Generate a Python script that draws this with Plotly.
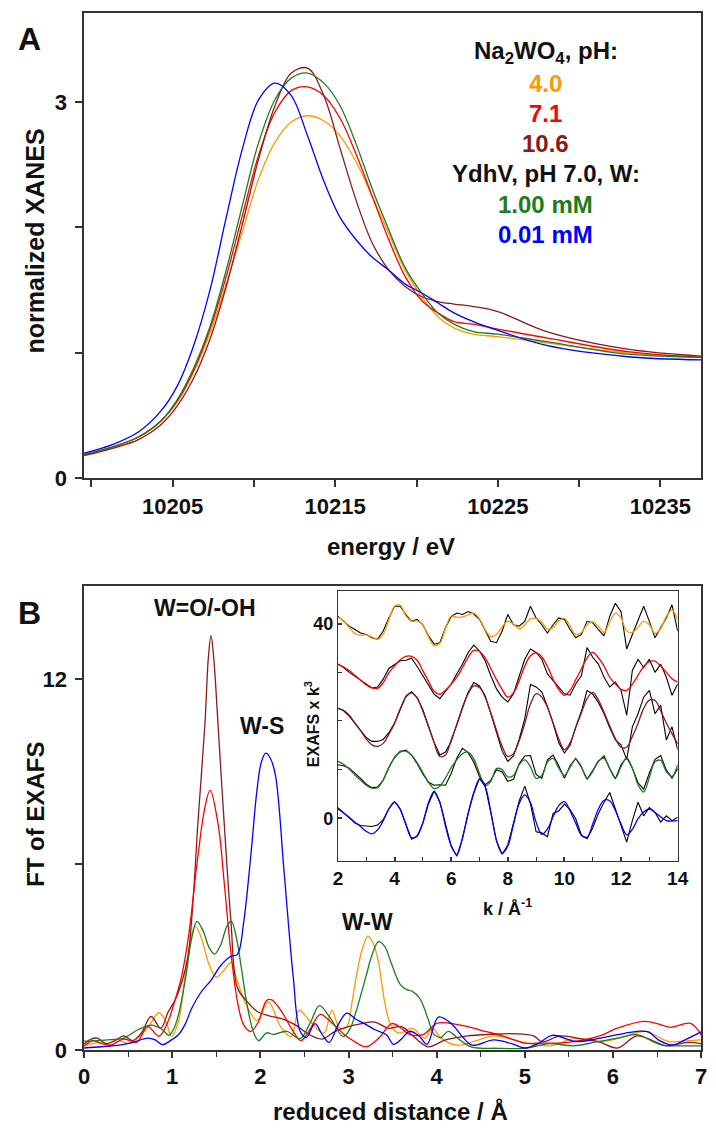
import plotly.graph_objects as go

W, H = 716, 1137
FONT = "Liberation Sans"

# ---------------- Panel A: XANES ----------------
energy = [10199.5, 10201.3, 10202.9, 10204.3, 10205.3, 10206.3, 10207.3, 10208.3, 10209.3,
          10210.3, 10211.3, 10212.3, 10213.3, 10214.3, 10215.3, 10216.3, 10217.3, 10218.3,
          10219.3, 10220.3, 10221.3, 10222.3, 10223.5, 10225, 10228, 10233, 10237.5]
xanes_ph40 = [0.19, 0.25, 0.33, 0.46, 0.61, 0.85, 1.16, 1.55, 1.97, 2.39, 2.68, 2.84, 2.89, 2.85,
              2.73, 2.52, 2.24, 1.95, 1.66, 1.45, 1.29, 1.20, 1.15, 1.13, 1.08, 1.00, 0.965]
xanes_ph71 = [0.19, 0.25, 0.33, 0.46, 0.62, 0.86, 1.19, 1.61, 2.10, 2.58, 2.92, 3.09, 3.12, 3.05,
              2.87, 2.58, 2.24, 1.90, 1.61, 1.42, 1.32, 1.25, 1.23, 1.19, 1.12, 1.01, 0.965]
xanes_ph106 = [0.18, 0.24, 0.31, 0.43, 0.58, 0.80, 1.11, 1.53, 2.03, 2.55, 2.97, 3.23, 3.27, 3.05,
               2.63, 2.21, 1.87, 1.66, 1.53, 1.45, 1.41, 1.39, 1.37, 1.33, 1.17, 1.03, 0.975]
xanes_1mM = [0.19, 0.25, 0.33, 0.46, 0.63, 0.88, 1.21, 1.66, 2.18, 2.68, 3.02, 3.19, 3.23, 3.15,
             2.97, 2.66, 2.30, 1.98, 1.68, 1.48, 1.32, 1.23, 1.17, 1.15, 1.09, 0.99, 0.965]
xanes_001mM = [0.20, 0.27, 0.37, 0.54, 0.74, 1.06, 1.50, 2.08, 2.63, 3.02, 3.15, 3.05, 2.73, 2.37,
               2.08, 1.90, 1.76, 1.66, 1.55, 1.48, 1.40, 1.32, 1.25, 1.18, 1.06, 0.97, 0.945]

energy_labels = [10205, 10215, 10225, 10235]
energy_labeltext = ["10205", "10215", "10225", "10235"]
energy_minor = [10200, 10210, 10220, 10230]
xanes_labels = [0, 3]
xanes_labeltext = ["0", "3"]
xanes_minor = [1, 2]

# ---------------- Panel B: FT ----------------
r_ph40 = [0, 0.1, 0.2, 0.3, 0.4, 0.5, 0.6, 0.73, 0.85, 0.93, 0.99, 1.07, 1.15, 1.21, 1.26, 1.32,
          1.42, 1.5, 1.58, 1.67, 1.73, 1.79, 1.85, 1.96, 2.09, 2.24, 2.35, 2.44, 2.57, 2.72, 2.81,
          2.9, 2.98, 3.04, 3.09, 3.15, 3.22, 3.28, 3.34, 3.41, 3.48, 3.57, 3.72, 3.87, 3.95, 4.05,
          4.23, 4.45, 4.65, 4.85, 5.02, 5.28, 5.58, 5.88, 6.1, 6.37, 6.63, 6.86, 7.0]
ft_ph40 = [0.17, 0.2, 0.25, 0.15, 0.3, 0.2, 0.35, 0.75, 1.2, 0.9, 0.44, 0.91, 2.51, 3.6, 4.0, 3.7,
           2.75, 2.35, 2.55, 2.83, 2.3, 1.8, 1.4, 0.95, 1.55, 0.7, 0.43, 1.28, 0.9, 0.54, 1.28,
           0.7, 0.75, 1.55, 2.4, 3.2, 3.68, 3.45, 2.84, 1.55, 0.81, 0.54, 0.7, 0.38, 0.7, 0.38,
           0.15, 0.3, 0.45, 0.35, 0.22, 0.13, 0.38, 0.27, 0.4, 0.6, 0.27, 0.3, 0.32]

r_ph71 = [0, 0.1, 0.2, 0.3, 0.45, 0.6, 0.72, 0.85, 0.95, 1.02, 1.1, 1.18, 1.29, 1.37, 1.43, 1.52,
          1.59, 1.665, 1.74, 1.81, 1.89, 1.98, 2.07, 2.13, 2.25, 2.35, 2.46, 2.55, 2.68, 2.8, 2.95,
          3.08, 3.2, 3.35, 3.49, 3.6, 3.69, 3.85, 4.0, 4.15, 4.35, 4.55, 4.75, 5.0, 5.2, 5.4,
          5.67, 5.85, 6.05, 6.35, 6.5, 6.65, 6.88, 7.0]
ft_ph71 = [0.12, 0.3, 0.2, 0.15, 0.35, 0.25, 0.76, 0.44, 0.9, 1.5, 2.3, 3.58, 6.24, 7.84, 8.4, 7.3,
           5.4, 3.16, 1.56, 0.81, 0.6, 0.92, 1.6, 1.62, 1.2, 0.7, 0.3, 0.6, 1.15, 0.9, 0.5,
           0.25, 0.1, 0.4, 0.85, 0.7, 0.5, 0.5, 0.86, 0.86, 0.75, 0.6, 0.45, 0.22, 0.22, 0.22,
           0.32, 0.45, 0.7, 0.92, 0.85, 0.73, 0.86, 0.49]

r_ph106 = [0, 0.08, 0.15, 0.25, 0.35, 0.45, 0.55, 0.65, 0.76, 0.87, 0.95, 1.04, 1.12, 1.18, 1.24,
           1.29, 1.37, 1.41, 1.44, 1.47, 1.52, 1.59, 1.665, 1.74, 1.85, 1.96, 2.1, 2.25, 2.4, 2.55,
           2.7, 2.85, 3.0, 3.15, 3.3, 3.45, 3.6, 3.75, 3.9, 4.1, 4.35, 4.6, 4.9, 5.1, 5.2, 5.4,
           5.65, 5.85, 6.05, 6.27, 6.45, 6.6, 6.85, 7.0]
ft_ph106 = [0.2, 0.35, 0.38, 0.2, 0.3, 0.45, 0.3, 0.55, 1.08, 0.7, 1.2, 1.66, 2.3, 3.04, 5.0,
            7.3, 10.5, 12.7, 13.4, 12.7, 10.5, 7.3, 4.2, 2.0, 1.56, 1.25, 1.1, 1.0, 0.8, 0.5,
            0.35, 0.6, 0.75, 0.85, 0.9, 0.7, 0.75, 0.4, 0.1, 0.32, 0.45, 0.5, 0.52, 0.45, 0.26, 0.45,
            0.35, 0.25, 0.06, 0.45, 0.3, 0.13, 0.24, 0.2]

r_1mM = [0, 0.15, 0.3, 0.44, 0.61, 0.76, 0.89, 0.96, 1.02, 1.07, 1.15, 1.22, 1.28, 1.35, 1.42, 1.48,
         1.55, 1.62, 1.67, 1.73, 1.78, 1.85, 1.92, 1.98, 2.07, 2.15, 2.3, 2.45, 2.57, 2.67, 2.8,
         2.94, 3.02, 3.09, 3.2, 3.27, 3.34, 3.41, 3.48, 3.59, 3.66, 3.72, 3.81, 3.9, 3.97, 4.05,
         4.13, 4.25, 4.39, 4.7, 5.0, 5.28, 5.55, 5.8, 6.05, 6.27, 6.55, 6.8, 7.0]
ft_1mM = [0.28, 0.3, 0.33, 0.37, 0.65, 0.8, 0.65, 0.47, 0.7, 1.13, 2.3, 3.6, 4.16, 3.85, 3.3, 3.1,
          3.4, 4.0, 4.16, 3.6, 2.73, 1.44, 0.59, 0.3, 0.55, 0.5, 0.6, 0.36, 0.9, 1.43, 1.0,
          0.43, 0.7, 1.28, 2.4, 3.1, 3.5, 3.35, 2.84, 2.1, 1.95, 1.9, 1.66, 1.02, 0.5, 0.4,
          0.6, 0.35, 0.1, 0.05, 0.05, 0.2, 0.13, 0.25, 0.38, 0.49, 0.16, 0.13, 0.13]

r_001mM = [0, 0.2, 0.4, 0.55, 0.72, 0.8, 0.89, 0.98, 1.07, 1.15, 1.22, 1.33, 1.44, 1.55, 1.665,
           1.74, 1.81, 1.89, 1.96, 2.01, 2.06, 2.11, 2.17, 2.27, 2.37, 2.45, 2.52, 2.62, 2.7, 2.78,
           2.88, 2.98, 3.08, 3.18, 3.3, 3.43, 3.51, 3.6, 3.69, 3.8, 3.89, 4.02, 4.17, 4.3, 4.4,
           4.65, 4.85, 5.0, 5.15, 5.31, 5.58, 5.8, 6.05, 6.28, 6.4, 6.53, 6.67, 6.8, 7.0]
ft_001mM = [0.06, 0.1, 0.15, 0.24, 0.38, 0.33, 0.17, 0.3, 0.49, 0.85, 1.34, 1.88, 2.25, 2.73, 3.03,
            3.09, 4.12, 6.24, 8.37, 9.3, 9.6, 9.45, 8.9, 5.72, 2.44, 0.61, 0.4, 0.85, 0.5, 0.24,
            0.8, 1.19, 1.0, 0.85, 0.65, 0.49, 0.18, 0.35, 0.6, 0.45, 0.18, 1.06, 0.84, 0.4, 0.15,
            0.32, 0.2, 0.06, 0.2, 0.47, 0.27, 0.35, 0.49, 0.6, 0.58, 0.3, 0.16, 0.3, 0.58]

r_ticks = [0, 1, 2, 3, 4, 5, 6, 7]
r_ticktext = ["0", "1", "2", "3", "4", "5", "6", "7"]
ft_labels = [0, 12]
ft_labeltext = ["0", "12"]
ft_minor = [6]

# ---------------- Inset: EXAFS (offset) ----------------
k = [2.0, 2.2, 2.4, 2.6, 2.8, 3.0, 3.2, 3.4, 3.6, 3.8,
     4.0, 4.2, 4.4, 4.6, 4.8, 5.0, 5.2, 5.4, 5.6, 5.8,
     6.0, 6.2, 6.4, 6.6, 6.8, 7.0, 7.2, 7.4, 7.6, 7.8,
     8.0, 8.2, 8.4, 8.6, 8.8, 9.0, 9.2, 9.4, 9.6, 9.8,
     10.0, 10.2, 10.4, 10.6, 10.8, 11.0, 11.2, 11.4, 11.6, 11.8,
     12.0, 12.2, 12.4, 12.6, 12.8, 13.0, 13.2, 13.4, 13.6, 13.8,
     14.0]
fit_ph40 = [41.3, 40.6, 39.2, 38.0, 37.6, 37.7, 37.3, 36.8, 37.8, 40.8,
            43.6, 43.8, 41.6, 40.5, 40.6, 39.7, 37.3, 35.5, 36.0, 39.0,
            41.6, 41.3, 41.4, 41.8, 42.2, 41.0, 38.8, 37.4, 37.8, 39.4,
            40.5, 39.9, 39.0, 39.8, 41.0, 41.1, 40.3, 38.9, 39.2, 40.6,
            41.1, 39.5, 37.8, 38.2, 39.8, 40.4, 39.5, 38.2, 40.4, 42.2,
            41.2, 38.5, 38.2, 39.3, 40.5, 39.8, 38.0, 39.0, 41.5, 42.8,
            40.8]
exp_ph40 = [41.5, 40.5, 39.5, 38.8, 38.1, 37.8, 37.1, 36.8, 38.5, 41.2,
            43.6, 43.6, 41.9, 40.5, 40.9, 39.8, 37.5, 35.8, 36.1, 39.2,
            41.5, 42.2, 41.9, 42.5, 42.0, 40.9, 38.5, 36.4, 36.1, 38.5,
            41.9, 39.8, 39.5, 40.5, 43.6, 41.2, 39.8, 38.1, 39.8, 41.2,
            40.9, 38.8, 37.1, 37.8, 40.5, 40.2, 38.8, 37.5, 41.5, 44.2,
            42.5, 34.8, 37.8, 40.9, 43.6, 40.5, 37.1, 39.2, 41.2, 43.9,
            38.5]
fit_ph71 = [31.7, 31.1, 30.4, 29.4, 28.4, 27.4, 26.8, 26.7, 27.9, 29.9,
            31.3, 32.6, 33.3, 33.3, 32.5, 30.3, 28.2, 26.1, 25.5, 26.3,
            27.6, 29.0, 31.0, 33.1, 34.5, 34.3, 33.0, 30.8, 28.5, 26.5,
            24.9, 25.8, 28.2, 31.3, 33.4, 34.0, 33.2, 31.2, 28.6, 26.5,
            25.3, 26.3, 28.5, 30.7, 33.0, 34.1, 33.0, 31.3, 29.0, 27.6,
            26.5, 26.3, 27.6, 29.4, 31.2, 32.2, 32.3, 31.3, 30.0, 28.7,
            28.0]
exp_ph71 = [31.7, 31.0, 30.0, 29.2, 28.3, 27.5, 26.8, 27.0, 28.6, 30.8,
            31.6, 32.4, 32.5, 32.9, 31.2, 29.3, 27.3, 25.5, 24.6, 26.0,
            27.6, 29.7, 31.7, 34.1, 35.6, 34.4, 32.4, 29.3, 26.6, 24.9,
            23.9, 25.6, 29.0, 32.7, 34.8, 34.1, 32.7, 29.7, 28.3, 27.0,
            25.6, 25.3, 27.6, 29.3, 35.1, 33.1, 31.7, 29.0, 27.0, 28.0,
            26.3, 21.2, 30.4, 32.7, 31.0, 32.7, 30.0, 31.7, 29.0, 25.3,
            27.6]
fit_ph106 = [22.6, 22.2, 21.2, 19.6, 18.0, 16.3, 15.1, 14.8, 15.4, 17.3,
             19.5, 22.5, 24.9, 25.8, 24.7, 22.0, 18.8, 15.5, 12.7, 13.0,
             16.1, 19.2, 22.6, 25.6, 27.2, 26.9, 24.9, 21.7, 18.1, 14.8,
             12.7, 13.3, 15.9, 19.5, 23.5, 25.6, 24.9, 22.8, 19.6, 16.3,
             14.1, 15.5, 18.6, 21.7, 24.6, 25.9, 24.3, 21.8, 19.0, 16.4,
             14.6, 14.6, 16.8, 19.5, 22.6, 24.3, 24.2, 22.1, 19.6, 17.4,
             15.3]
exp_ph106 = [22.6, 22.1, 21.0, 19.6, 18.1, 16.6, 15.8, 15.8, 16.2, 17.6,
             19.6, 22.5, 25.1, 26.0, 24.8, 22.3, 18.9, 15.6, 13.0, 13.6,
             15.8, 19.6, 22.9, 25.9, 27.9, 27.2, 25.2, 21.5, 17.5, 13.8,
             11.7, 12.8, 16.2, 20.5, 27.5, 27.0, 26.0, 23.0, 19.5, 15.5,
             13.4, 15.0, 18.8, 22.0, 26.3, 25.5, 23.8, 21.5, 18.6, 16.1,
             15.1, 12.1, 18.8, 21.5, 24.9, 26.3, 21.5, 23.2, 16.1, 18.8,
             14.1]
fit_1mM = [11.7, 11.1, 10.1, 8.9, 7.8, 6.8, 6.2, 6.3, 7.9, 10.5,
           12.4, 13.6, 13.8, 13.0, 11.4, 9.4, 7.4, 6.1, 6.6, 8.3,
           10.4, 12.0, 13.3, 13.6, 12.2, 9.2, 6.7, 7.6, 10.2, 10.0,
           8.5, 8.8, 11.0, 12.0, 10.6, 8.2, 8.8, 11.5, 12.3, 10.3,
           8.8, 10.5, 12.1, 10.6, 8.2, 9.6, 11.8, 12.3, 10.2, 8.3,
           10.6, 12.4, 10.3, 6.9, 5.4, 8.4, 11.6, 11.9, 9.6, 8.6,
           11.0]
exp_1mM = [11.0, 10.8, 10.3, 9.3, 8.2, 7.0, 6.3, 6.4, 7.8, 10.4,
           12.6, 13.8, 14.0, 13.0, 11.2, 9.1, 7.4, 6.8, 6.9, 6.8,
           9.2, 12.4, 14.4, 13.5, 11.5, 8.6, 6.9, 7.8, 10.0, 9.5,
           7.6, 8.0, 11.2, 12.8, 12.9, 9.0, 8.2, 12.0, 13.0, 10.8,
           8.2, 10.8, 12.3, 10.5, 8.0, 9.8, 11.7, 12.8, 10.2, 8.1,
           11.0, 12.5, 10.3, 7.3, 6.0, 9.3, 12.1, 12.9, 9.9, 8.3,
           10.2]
fit_001mM = [1.9, 1.1, 0.2, -0.8, -1.7, -2.7, -3.2, -2.4, -0.5, 1.9,
             3.3, 1.8, -1.3, -4.0, -3.6, -0.9, 3.2, 5.5, 3.2, -1.6,
             -5.6, -7.5, -4.0, 1.0, 5.3, 8.0, 6.5, 1.3, -4.5, -7.2,
             -5.7, -1.3, 3.0, 4.8, 3.2, -0.8, -3.3, -2.2, 0.3, 2.6,
             3.4, 1.5, -1.0, -3.5, -3.9, -1.2, 1.9, 3.7, 3.6, 1.6,
             -1.2, -3.4, -2.3, -0.1, 1.3, 1.9, 1.2, 0.3, -0.5, -0.6,
             -0.5]
exp_001mM = [2.2, 1.2, 0.0, -1.0, -1.5, -1.6, -1.7, -1.4, -0.3, 2.0,
             3.4, 1.9, -1.2, -4.3, -3.7, -1.0, 3.0, 5.6, 3.4, -1.5,
             -5.8, -7.8, -4.2, 1.0, 5.2, 8.2, 6.6, 1.2, -4.7, -7.4,
             -5.5, -1.0, 3.5, 6.6, 3.0, -2.8, -3.0, -3.8, 1.0, 1.5,
             2.9, 1.8, -0.1, -3.5, -4.2, -2.0, 1.0, 3.3, 5.3, 1.9,
             -1.5, -4.9, -0.5, 3.3, 0.5, 2.2, 1.2, -0.8, 0.5, -0.5,
             0.2]
k_ticks = [2, 4, 6, 8, 10, 12, 14]
k_ticktext = ["2", "4", "6", "8", "10", "12", "14"]
exafs_labels = [0, 40]
exafs_labeltext = ["0", "40"]
exafs_minor = [10, 20, 30]

# ---------------- styles ----------------
C_OR, C_RED, C_BR, C_GR, C_BL = "#FF9900", "#FF0000", "#8B1A1A", "#1E7B1E", "#0000FF"
AX = "#333333"

fig = go.Figure()

def line(x, y, color, xa, ya, width=1.3, shape="spline"):
    ln = dict(color=color, width=width, shape=shape)
    if shape == "spline":
        ln["smoothing"] = 1.0
    fig.add_trace(go.Scatter(x=x, y=y, mode="lines", xaxis=xa, yaxis=ya, showlegend=False,
                             hoverinfo="skip", line=ln))

# Panel A
for ys, c in [(xanes_ph40, C_OR), (xanes_ph71, C_RED), (xanes_ph106, C_BR),
              (xanes_1mM, C_GR), (xanes_001mM, C_BL)]:
    line(energy, ys, c, "x", "y")

# Panel B
for rs, ys, c in [(r_ph40, ft_ph40, C_OR), (r_ph106, ft_ph106, C_BR), (r_ph71, ft_ph71, C_RED),
                  (r_1mM, ft_1mM, C_GR), (r_001mM, ft_001mM, C_BL)]:
    line(rs, ys, c, "x2", "y2")

# Inset
for ex, ft, c in [(exp_ph40, fit_ph40, C_OR), (exp_ph71, fit_ph71, C_RED),
                  (exp_ph106, fit_ph106, C_BR), (exp_1mM, fit_1mM, C_GR),
                  (exp_001mM, fit_001mM, C_BL)]:
    line(k, ex, "#000000", "x3", "y3", width=1.1, shape="linear")
    line(k, ft, c, "x3", "y3", width=1.3)

def px(x): return x / W
def py(y): return 1 - y / H

tickfont = dict(family=FONT, size=22, color="#111111", weight="bold")
common = dict(showgrid=False, zeroline=False, showline=True, linecolor=AX, linewidth=1.5,
              mirror=True, tickcolor=AX, tickwidth=1.5)

def minor_arr(vals, ticks, ln, w=1.5):
    return dict(tickmode="array", tickvals=vals, ticks=ticks, ticklen=ln, tickcolor=AX,
                tickwidth=w, showgrid=False)

fig.update_layout(
    width=W, height=H, margin=dict(l=0, r=0, t=0, b=0),
    paper_bgcolor="white", plot_bgcolor="white",
    xaxis=dict(domain=[px(80), px(712)], range=[10199.56, 10237.5], anchor="y",
               tickmode="array", tickvals=energy_labels, ticktext=energy_labeltext,
               ticks="outside", ticklen=7, tickfont=tickfont,
               minor=minor_arr(energy_minor, "outside", 7), **common),
    yaxis=dict(domain=[py(484), py(13)], range=[0, 3.71], anchor="x",
               tickmode="array", tickvals=xanes_labels, ticktext=xanes_labeltext,
               ticks="outside", ticklen=7, tickfont=tickfont, ticklabelstandoff=4,
               minor=minor_arr(xanes_minor, "outside", 7), **common),
    xaxis2=dict(domain=[px(80), px(712)], range=[0, 7], anchor="y2",
                tickmode="array", tickvals=r_ticks, ticktext=r_ticktext,
                ticks="outside", ticklen=6, tickfont=tickfont,
                minor=dict(dtick=0.5, ticks="outside", ticklen=5, tickcolor=AX, tickwidth=1.2),
                **common),
    yaxis2=dict(domain=[py(1062), py(593)], range=[0, 15], anchor="x2",
                tickmode="array", tickvals=ft_labels, ticktext=ft_labeltext,
                ticks="outside", ticklen=7, tickfont=tickfont, ticklabelstandoff=4,
                minor=minor_arr(ft_minor, "outside", 7), **common),
    xaxis3=dict(domain=[px(340), px(688)], range=[2, 14], anchor="y3",
                tickmode="array", tickvals=k_ticks, ticktext=k_ticktext,
                ticks="inside", ticklen=4,
                tickfont=dict(family=FONT, size=19, color="#111111", weight="bold"),
                minor=dict(dtick=1, ticks="inside", ticklen=4, tickcolor=AX, tickwidth=1),
                **{**common, "linewidth": 1.3}),
    yaxis3=dict(domain=[py(871), py(598)], range=[-8.8, 46.7], anchor="x3",
                tickmode="array", tickvals=exafs_labels, ticktext=exafs_labeltext,
                ticks="inside", ticklen=4,
                tickfont=dict(family=FONT, size=18, color="#111111", weight="bold"),
                minor=minor_arr(exafs_minor, "inside", 4, 1),
                **{**common, "linewidth": 1.3}),
)

def ann(text, x, y, size, color="#111111", angle=0):
    fig.add_annotation(text=text, x=px(x), y=py(y), xref="paper", yref="paper",
                       showarrow=False, textangle=angle, xanchor="center", yanchor="middle",
                       font=dict(family=FONT, size=size, color=color, weight="bold"))

# Panel A texts
ann("A", 24, 39, 32)
ann("normalized XANES", 30, 244, 25, angle=-90)
ann("energy / eV", 394, 553, 24)
legend_lines = [("Na<sub>2</sub>WO<sub>4</sub>, pH:", "#111111", 53), ("4.0", C_OR, 84),
                ("7.1", C_RED, 115), ("10.6", C_BR, 145), ("YdhV, pH 7.0, W:", "#111111", 176),
                ("1.00 mM", C_GR, 207), ("0.01 mM", C_BL, 237)]
for t, c, y in legend_lines:
    ann(t, 553, y, 24, color=c)

# Panel B texts
ann("B", 24, 620, 32)
ann("FT of EXAFS", 30, 824, 24, angle=-90)
ann("reduced distance / Å", 394, 1124, 24)
ann("W=O/-OH", 204, 615, 23)
ann("W-S", 262, 734, 23)
ann("W-W", 370, 933, 23)
ann("EXAFS x k<sup>3</sup>", 313, 733, 16, angle=-90)
ann("k / Å<sup>-1</sup>", 514, 918, 18)

fig.write_html("out.html")
